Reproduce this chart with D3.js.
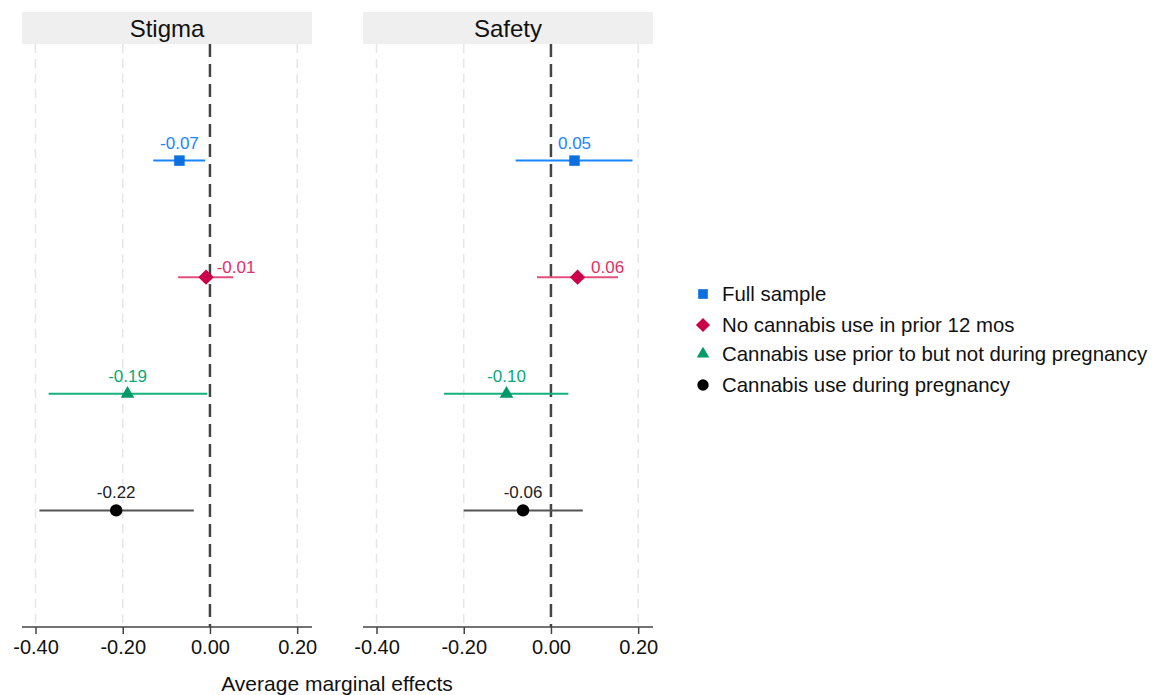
<!DOCTYPE html>
<html>
<head>
<meta charset="utf-8">
<script src="https://cdn.jsdelivr.net/npm/d3@7"></script>
<style>
  body { margin: 0; background: #fff; }
  svg { font-family: Arial, "Liberation Sans", Helvetica, sans-serif; }
</style>
</head>
<body>
<svg id="chart" width="1158" height="695"></svg>
<script>
// Values
const panels = ["Stigma", "Safety"];
const groups = [
    "Full sample",
    "No cannabis use in prior 12 mos",
    "Cannabis use prior to but not during pregnancy",
    "Cannabis use during pregnancy"
];
const stigmaEst = [-0.070, -0.009, -0.189, -0.215];
const stigmaLo  = [-0.130, -0.073, -0.370, -0.391];
const stigmaHi  = [-0.011,  0.053, -0.006, -0.037];
const stigmaLbl = ["-0.07", "-0.01", "-0.19", "-0.22"];
const safetyEst = [ 0.054,  0.061, -0.102, -0.064];
const safetyLo  = [-0.081, -0.032, -0.245, -0.200];
const safetyHi  = [ 0.187,  0.154,  0.040,  0.073];
const safetyLbl = ["0.05", "0.06", "-0.10", "-0.06"];
const xTicks = [-0.4, -0.2, 0, 0.2];

const markerColors = ["#0b6fe0", "#cc0048", "#009a68", "#000000"];
const lineColors   = ["#1a85ff", "#e2507c", "#13b27c", "#555555"];
const labelColors  = ["#1a85ff", "#e0306a", "#0aa878", "#222222"];
const symbols = [d3.symbolSquare, d3.symbolDiamond2, d3.symbolTriangle, d3.symbolCircle];
const symbolSizes = [110, 150, 80, 120];

const svg = d3.select("#chart");

const panelData = [
    { name: panels[0], est: stigmaEst, lo: stigmaLo, hi: stigmaHi, lbl: stigmaLbl, left: 22 },
    { name: panels[1], est: safetyEst, lo: safetyLo, hi: safetyHi, lbl: safetyLbl, left: 363 }
];

const panelW = 290;
const plotTop = 44, plotBottom = 627;

const y = d3.scaleLinear().domain([0, 5]).range([plotTop, plotBottom]);

panelData.forEach(p => {
    const x = d3.scaleLinear().domain([-0.431, 0.234]).range([p.left, p.left + panelW]);
    const g = svg.append("g");

    // header strip
    g.append("rect")
        .attr("x", p.left).attr("y", 12)
        .attr("width", panelW).attr("height", 32)
        .attr("fill", "#efefef");
    g.append("text")
        .attr("x", p.left + panelW / 2).attr("y", 37)
        .attr("text-anchor", "middle")
        .attr("font-size", "24px")
        .attr("fill", "#111")
        .text(p.name);

    // grid lines
    g.append("g").selectAll("line")
        .data(xTicks.filter(t => t !== 0))
        .join("line")
        .attr("x1", d => x(d)).attr("x2", d => x(d))
        .attr("y1", plotTop).attr("y2", plotBottom)
        .attr("stroke", "#e6e6e6")
        .attr("stroke-width", 1.5)
        .attr("stroke-dasharray", "9,6");

    // zero reference line
    g.append("line")
        .attr("x1", x(0)).attr("x2", x(0))
        .attr("y1", plotTop).attr("y2", plotBottom)
        .attr("stroke", "#444")
        .attr("stroke-width", 2.5)
        .attr("stroke-dasharray", "13,7");

    // x axis
    const axis = g.append("g")
        .attr("transform", `translate(0,${plotBottom})`)
        .call(d3.axisBottom(x).tickValues(xTicks).tickFormat(d3.format(".2f")).tickSize(7).tickPadding(6));
    axis.select(".domain").attr("stroke", "#444").attr("stroke-width", 1.5)
        .attr("d", `M${p.left},0H${p.left + panelW}`);
    axis.selectAll(".tick line").attr("stroke", "#444").attr("stroke-width", 1.5);
    axis.selectAll(".tick text")
        .attr("font-size", "20px")
        .attr("fill", "#111")
        .attr("font-family", "Arial, 'Liberation Sans', sans-serif")
        .text(d => d3.format(".2f")(d).replace("−", "-"));

    // CIs
    g.append("g").selectAll("line")
        .data(d3.range(groups.length))
        .join("line")
        .attr("x1", i => x(p.lo[i])).attr("x2", i => x(p.hi[i]))
        .attr("y1", i => y(i + 1)).attr("y2", i => y(i + 1))
        .attr("stroke", i => lineColors[i])
        .attr("stroke-width", 2);

    // markers
    g.append("g").selectAll("path")
        .data(d3.range(groups.length))
        .join("path")
        .attr("transform", i => `translate(${x(p.est[i])},${y(i + 1)})`)
        .attr("d", i => d3.symbol().type(symbols[i]).size(symbolSizes[i])())
        .attr("fill", i => markerColors[i]);

    // value labels
    g.append("g").selectAll("text")
        .data(d3.range(groups.length))
        .join("text")
        .attr("x", i => x(p.est[i]) + (i === 1 ? 30 : 0))
        .attr("y", i => y(i + 1) - (i === 1 ? 4 : 12))
        .attr("text-anchor", "middle")
        .attr("font-size", "17px")
        .attr("fill", i => labelColors[i])
        .text(i => p.lbl[i]);
});

// x axis title
svg.append("text")
    .attr("x", 337).attr("y", 691)
    .attr("text-anchor", "middle")
    .attr("font-size", "21px")
    .attr("fill", "#111")
    .text("Average marginal effects");

// legend
const legend = svg.append("g").attr("transform", "translate(703,294)");
const rowY = [0, 31, 60, 91];
const item = legend.selectAll("g")
    .data(groups)
    .join("g")
    .attr("transform", (d, i) => `translate(0,${rowY[i]})`);
item.append("path")
    .attr("d", (d, i) => d3.symbol().type(symbols[i]).size(symbolSizes[i] * 0.85)())
    .attr("fill", (d, i) => markerColors[i]);
item.append("text")
    .attr("x", 19).attr("y", 7)
    .attr("font-size", "20.4px")
    .attr("fill", "#111")
    .text(d => d);
</script>
</body>
</html>
